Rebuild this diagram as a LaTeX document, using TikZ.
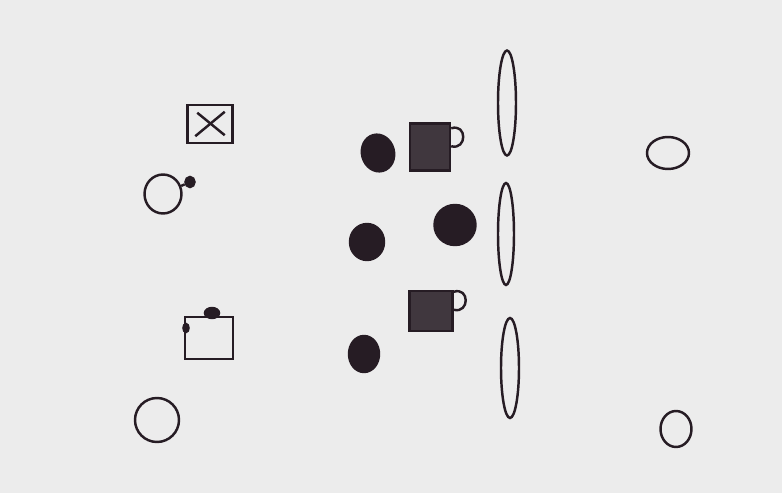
\documentclass[tikz,border=0pt]{standalone}
\usepackage{tikz}
\usetikzlibrary{shapes.geometric, positioning, calc}

\definecolor{paper}{RGB}{236,236,236}
\definecolor{ink}{RGB}{38,28,36}

\begin{document}
\begin{tikzpicture}[
    x=0.02cm, y=-0.02cm,
    pen/.style={draw=ink, line width=1.4pt},
    hollow/.style={ellipse, pen, inner sep=0pt},
    blob/.style={ellipse, pen, fill=ink, inner sep=0pt},
    crate/.style={rectangle, pen, inner sep=0pt},
    darkcrate/.style={crate, fill=ink!88},
    lens/.style={ellipse, pen, inner sep=0pt, minimum width=0.36cm}
]

% Paper
\fill[paper] (0,0) rectangle (782,493);
\useasboundingbox (0,0) rectangle (782,493);

% Left column
\node[crate, minimum width=0.9cm, minimum height=0.76cm] (xbox) at (210,124) {};
\draw[pen] ($(xbox.south west)+(9,-8)$) -- ($(xbox.north east)+(-9,8)$);
\draw[pen] ($(xbox.north west)+(11,9)$) -- ($(xbox.south east)+(-9,-9)$);
\node[hollow, minimum width=0.74cm, minimum height=0.78cm] (ringa) at (163,194) {};
\node[blob, minimum width=0.18cm, minimum height=0.2cm] (dota) at (190,182) {};
\draw[pen] (ringa) -- (dota);

\node[crate, minimum width=0.96cm, minimum height=0.84cm] (plainbox) at (209,338) {};
\node[blob, minimum width=0.28cm, minimum height=0.2cm] (dotb) at (212,313) {};
\node[blob, minimum width=0.1cm, minimum height=0.16cm] (dotc) at (186,328) {};
\node[hollow, minimum width=0.88cm, minimum height=0.88cm] (ringb) at (157,420) {};

% Middle cluster
\node[blob, minimum width=0.64cm, minimum height=0.74cm, rotate=15] (puck1) at (378,153) {};
\node[blob, minimum width=0.68cm, minimum height=0.72cm] (puck2) at (367,242) {};
\node[blob, minimum width=0.82cm, minimum height=0.8cm] (puck3) at (455,225) {};
\node[blob, minimum width=0.6cm, minimum height=0.72cm] (puck4) at (364,354) {};

\node[darkcrate, minimum width=0.8cm, minimum height=0.94cm] (mug1) at (430,147) {};
\draw[pen] ($(mug1.north east)+(0,6)$) .. controls +(16,-5) and +(16,4) .. ($(mug1.north east)+(0,24)$);
\node[darkcrate, minimum width=0.86cm, minimum height=0.8cm] (mug2) at (431,311) {};
\draw[pen] ($(mug2.north east)+(0,2)$) .. controls +(16,-5) and +(16,4) .. ($(mug2.north east)+(0,20)$);

% Lenses
\node[lens, minimum height=2.1cm] (lens1) at (507,103) {};
\node[lens, minimum height=2.04cm, minimum width=0.32cm] (lens2) at (506,234) {};
\node[lens, minimum height=2cm] (lens3) at (510,368) {};

% Right column
\node[hollow, minimum width=0.84cm, minimum height=0.64cm] (ringc) at (668,153) {};
\node[hollow, minimum width=0.62cm, minimum height=0.72cm] (ringd) at (676,429) {};

\end{tikzpicture}
\end{document}
